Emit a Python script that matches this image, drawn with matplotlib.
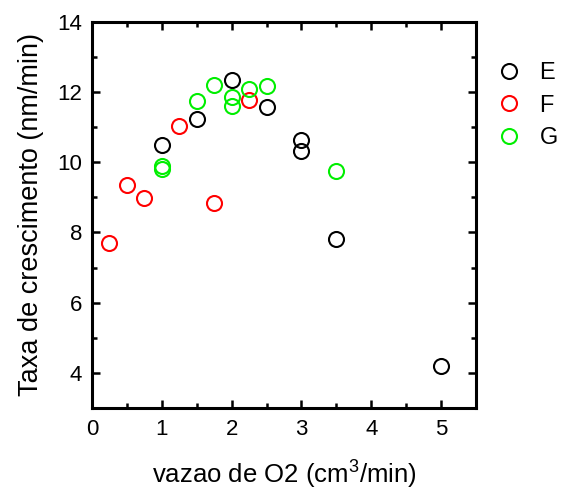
import matplotlib
matplotlib.use("Agg")
import matplotlib.pyplot as plt
from matplotlib.ticker import MultipleLocator

plt.rcParams['font.family'] = ['Liberation Sans', 'DejaVu Sans']
plt.rcParams['mathtext.fontset'] = 'custom'
plt.rcParams['mathtext.rm'] = 'Liberation Sans'

E_x = [1, 1.5, 2, 2.5, 3, 3, 3.5, 5]
E_y = [10.50, 11.22, 12.35, 11.57, 10.64, 10.31, 7.81, 4.20]
F_x = [0.25, 0.5, 0.75, 1.25, 1.75, 2.25]
F_y = [7.71, 9.34, 8.97, 11.02, 8.85, 11.78]
G_x = [1, 1, 1.5, 1.75, 2, 2, 2.25, 2.5, 3.5]
G_y = [9.88, 9.81, 11.75, 12.21, 11.87, 11.59, 12.07, 12.16, 9.75]

fig = plt.figure(figsize=(5.61, 4.93), dpi=100)
ax = fig.add_axes([92/561, 1-408/493, (476-92)/561, (408-21.7)/493])

ms = 10.8
mew = 1.5
ax.plot(E_x, E_y, 'o', ls='none', mfc='none', mec='black', ms=ms, mew=mew, label='E')
ax.plot(F_x, F_y, 'o', ls='none', mfc='none', mec='#ff0000', ms=ms, mew=mew, label='F')
ax.plot(G_x, G_y, 'o', ls='none', mfc='none', mec='#00ee00', ms=ms, mew=mew, label='G')

ax.set_xlim(0, 5.5)
ax.set_ylim(3, 14)
ax.xaxis.set_major_locator(MultipleLocator(1))
ax.xaxis.set_minor_locator(MultipleLocator(0.5))
ax.set_yticks([4, 6, 8, 10, 12, 14])
ax.yaxis.set_minor_locator(MultipleLocator(1))

for s in ax.spines.values():
    s.set_linewidth(2.2)
ax.tick_params(which='both', direction='in', top=True, right=True, width=1.8)
ax.tick_params(which='major', length=6, labelsize=16)
ax.tick_params(axis='x', which='major', pad=8)
ax.tick_params(axis='y', which='major', pad=7)
ax.tick_params(which='minor', length=3.5)

ax.set_xlabel('vazao de O2 (cm$^{\\mathrm{3}}$/min)', fontsize=18.5, labelpad=12)
ax.set_ylabel('Taxa de crescimento (nm/min)', fontsize=19.5, labelpad=10)

leg = fig.legend(loc='upper left', bbox_to_anchor=(497/561, 1-62/493), frameon=False,
                 fontsize=17, handletextpad=0.8, labelspacing=0.45, handlelength=1.0,
                 borderpad=0, borderaxespad=0)

fig.savefig('out.png', dpi=100)
